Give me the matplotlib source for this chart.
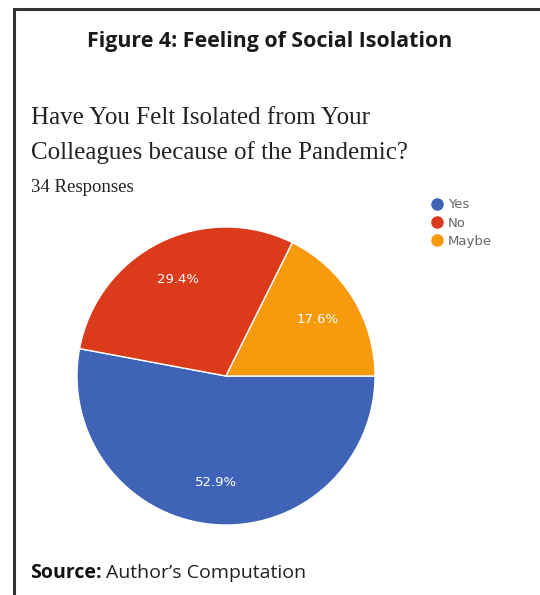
import matplotlib.pyplot as plt
from matplotlib.lines import Line2D

# survey answers (34 responses)
answers = ['Yes', 'No', 'Maybe']
counts = [18, 10, 6]
colors = ['#3f63b7', '#db3a1b', '#f79a0e']

W, H = 540, 595
fig = plt.figure(figsize=(W / 100, H / 100), dpi=100)

def fx(px):
    return px / W

def fy(py):
    return 1 - py / H

# frame lines (top and left)
fig.add_artist(Line2D([fx(14), fx(540)], [fy(9), fy(9)], color='#333333', lw=2.2,
                      transform=fig.transFigure))
fig.add_artist(Line2D([fx(14), fx(14)], [fy(9), fy(595)], color='#333333', lw=2.2,
                      transform=fig.transFigure))

fig.text(fx(270), fy(42), 'Figure 4: Feeling of Social Isolation', ha='center', va='center',
         fontsize=15.4, fontweight='bold', family='Open Sans', color='#1a1a1a')
fig.text(fx(31), fy(118), 'Have You Felt Isolated from Your', ha='left', va='center',
         fontsize=18, family='Liberation Serif', color='#222222')
fig.text(fx(31), fy(153), 'Colleagues because of the Pandemic?', ha='left', va='center',
         fontsize=18, family='Liberation Serif', color='#222222')
fig.text(fx(31), fy(187), '34 Responses', ha='left', va='center',
         fontsize=13.5, family='Liberation Serif', color='#222222')

# pie
ax = fig.add_axes([fx(77), fy(525), 298 / W, 298 / H])
wedges, texts, autotexts = ax.pie(counts, colors=colors, startangle=0, counterclock=False,
                                  autopct='%.1f%%', pctdistance=0.72,
                                  wedgeprops=dict(edgecolor='white', linewidth=1),
                                  textprops=dict(color='white', fontsize=9.5, family='DejaVu Sans'))
ax.set_xlim(-1, 1)
ax.set_ylim(-1, 1)
ax.set_aspect('equal')

handles = [Line2D([], [], marker='o', linestyle='', markersize=8, markerfacecolor=c,
                  markeredgecolor=c) for c in colors]
fig.legend(handles, answers, loc='upper left', bbox_to_anchor=(fx(424), fy(193)),
           frameon=False, fontsize=9.5, labelcolor='#666666', handletextpad=0.2,
           labelspacing=0.4, handlelength=1.2, borderaxespad=0)

fig.text(fx(30), fy(573), 'Source:', ha='left', va='center', fontsize=14,
         fontweight='bold', family='Open Sans', color='#111111')
fig.text(fx(106), fy(573), 'Author\u2019s Computation', ha='left', va='center',
         fontsize=14, family='Open Sans', color='#222222')

fig.savefig('out.png', dpi=100)
